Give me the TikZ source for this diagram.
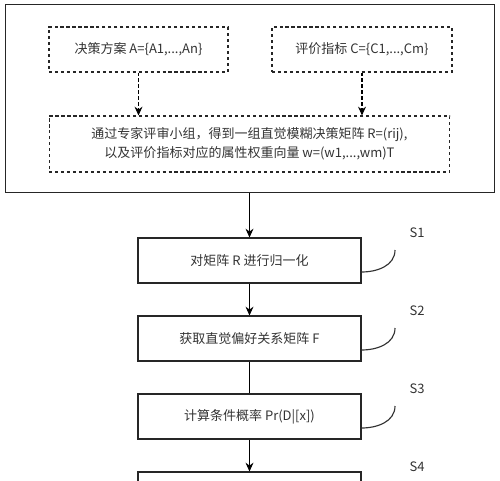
\documentclass[tikz,border=0pt]{standalone}
\usepackage{fontspec}
\setmainfont{Noto Sans CJK SC}
\usetikzlibrary{arrows.meta}

\tikzset{
  box/.style={draw=black!85, line width=0.6pt, minimum width=4.46cm, minimum height=0.9cm,
    inner sep=0pt, align=center, text=black!80, font=\fontsize{7.4}{10.8}\selectfont},
  dbox/.style={box, dash pattern=on 1.8pt off 1.6pt},
  flow/.style={-{Stealth[length=5pt,width=4.5pt]}, line width=0.6pt},
  dflow/.style={flow, dash pattern=on 1.8pt off 1.6pt},
  hook/.style={line width=0.65pt, black!80},
  steplabel/.style={text=black!80, font=\fontsize{7.4}{8}\selectfont}
}

\begin{document}
\begin{tikzpicture}[x=0.02cm, y=-0.02cm]

  \useasboundingbox (0,0) rectangle (500,480);
  \clip (0,0) rectangle (500,480);

  % --- outer frame ---
  \node[box, minimum width=9.8cm, minimum height=3.76cm] (outer) at (250,98.5) {};

  % --- inputs ---
  \node[dbox, minimum width=3.58cm] (alts) at (138.5,49.5) {决策方案 A=\{A1,...,An\}};
  \node[dbox, minimum width=3.6cm] (crit) at (362,49.5) {评价指标 C=\{C1,...,Cm\}};
  \node[dbox, minimum width=8.02cm, minimum height=1.12cm] (matrix) at (249.5,144)
    {通过专家评审小组，得到一组直觉模糊决策矩阵 R=(rij),\\以及评价指标对应的属性权重向量 w=(w1,...,wm)T};

  \draw[dflow] (alts.south) -- (alts.south |- matrix.north);
  \draw[dflow] (crit.south) -- (crit.south |- matrix.north);

  % --- steps ---
  \node[box] (s1) at (249.5,260.5) {对矩阵 R 进行归一化};
  \node[box] (s2) at (249.5,338.5) {获取直觉偏好关系矩阵 F};
  \node[box] (s3) at (249.5,416.5) {计算条件概率 Pr(D|[x])};
  \node[box] (s4) at (249.5,494.5) {};

  \draw[flow] (outer.south -| s1.north) -- (s1.north);
  \draw[flow] (s1.south) -- (s2.north);
  \draw[line width=0.6pt] (s2.south) -- (s3.north);
  \draw[flow] (s3.south) -- (s4.north);

  % --- step labels ---
  \foreach \i/\y in {1/260.5, 2/338.5, 3/416.5, 4/494.5} {
    \node[steplabel] (lab\i) at (417,\y-27.5) {S\i};
    \coordinate (tip\i) at (395,\y-10.5);
  }
  \foreach \i in {1,2,3}
    \draw[hook] ([yshift=-0.23cm]s\i.east) to[out=0, in=-90] (tip\i);

\end{tikzpicture}
\end{document}
